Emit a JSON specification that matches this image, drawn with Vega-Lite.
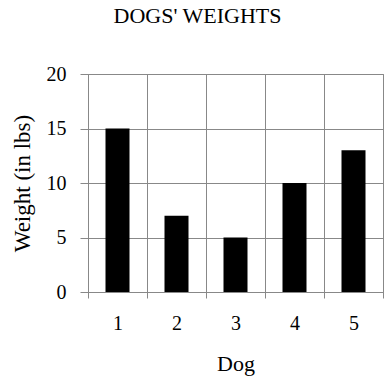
{
  "$schema": "https://vega.github.io/schema/vega-lite/v6.json",
  "autosize": "none",
  "width": 295,
  "height": 218,
  "padding": {"left": 88, "top": 74, "right": 9, "bottom": 92},
  "background": "white",
  "title": {
    "text": "DOGS' WEIGHTS",
    "font": "Liberation Serif",
    "fontSize": 22,
    "fontWeight": "normal",
    "color": "black",
    "anchor": "middle",
    "frame": "group",
    "dx": -38,
    "offset": 36
  },
  "data": {
    "values": [
      {"dog": "1", "weight": 15},
      {"dog": "2", "weight": 7},
      {"dog": "3", "weight": 5},
      {"dog": "4", "weight": 10},
      {"dog": "5", "weight": 13}
    ]
  },
  "mark": {"type": "bar", "color": "black", "width": 24},
  "encoding": {
    "x": {
      "field": "dog",
      "type": "ordinal",
      "scale": {"paddingInner": 0, "paddingOuter": 0},
      "axis": {
        "title": "Dog",
        "labelAngle": 0,
        "tickBand": "extent",
        "grid": true,
        "gridColor": "#888888",
        "domainColor": "#888888",
        "tickColor": "#888888",
        "tickSize": 6,
        "labelFont": "Liberation Serif",
        "labelFontSize": 20,
        "labelColor": "black",
        "labelPadding": 15,
        "titleFont": "Liberation Serif",
        "titleFontSize": 22,
        "titleFontWeight": "normal",
        "titleColor": "black",
        "titlePadding": 20
      }
    },
    "y": {
      "field": "weight",
      "type": "quantitative",
      "scale": {"domain": [0, 20]},
      "axis": {
        "title": "Weight (in lbs)",
        "values": [0, 5, 10, 15, 20],
        "grid": true,
        "gridColor": "#888888",
        "domainColor": "#888888",
        "tickColor": "#888888",
        "tickSize": 8,
        "labelFont": "Liberation Serif",
        "labelFontSize": 20,
        "labelColor": "black",
        "labelPadding": 14,
        "titleFont": "Liberation Serif",
        "titleFontSize": 23,
        "titleFontWeight": "normal",
        "titleColor": "black",
        "titlePadding": 12
      }
    }
  },
  "config": {"view": {"stroke": "#888888"}}
}
